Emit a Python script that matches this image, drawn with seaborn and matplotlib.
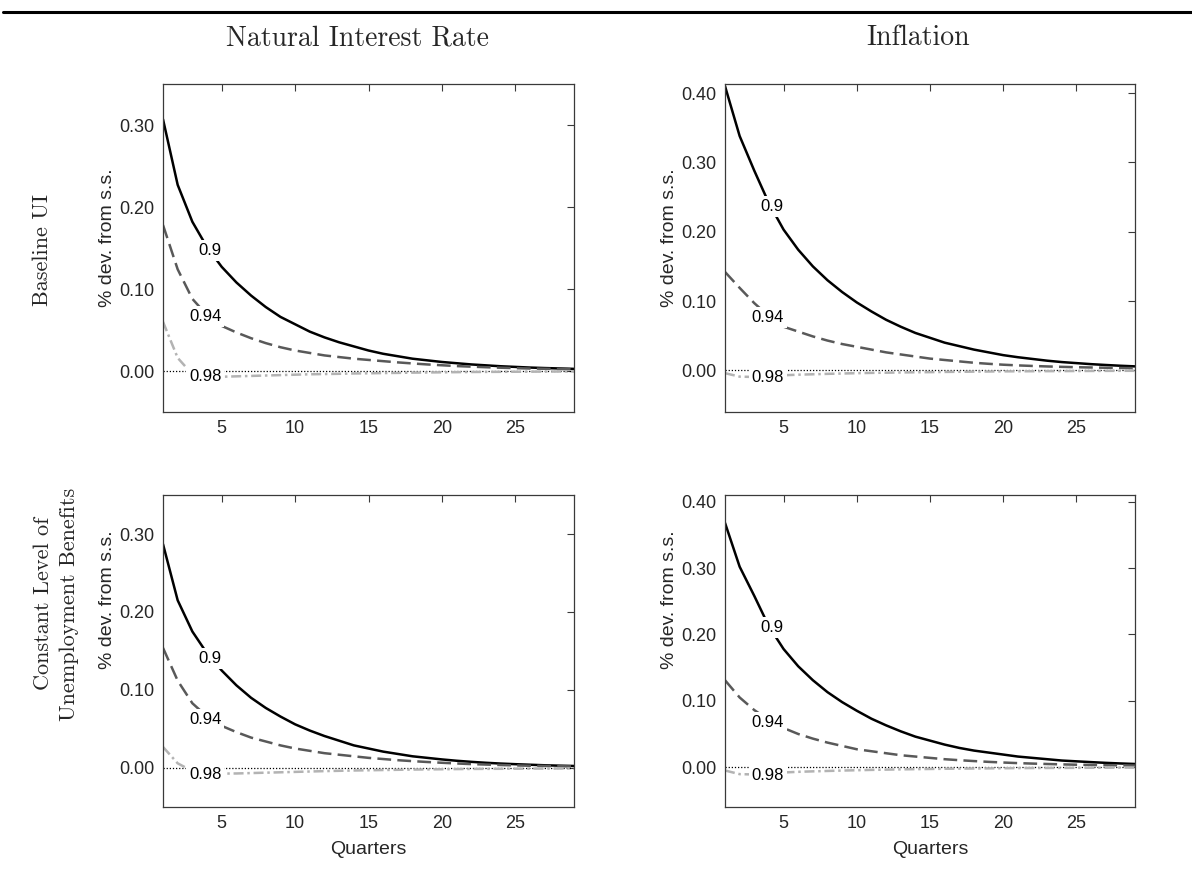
#!/usr/bin/env python3
# plot.py - impulse responses of the natural rate and inflation, two UI regimes

import pandas as pd
import matplotlib.pyplot as plt
import seaborn as sns
from matplotlib.lines import Line2D
from matplotlib.ticker import FormatStrFormatter

sns.set_style("white")
plt.rcParams["font.family"] = ["Liberation Sans", "DejaVu Sans"]

# 1. Data
quarters = list(range(1, 30))
rho_labels = ["0.9", "0.94", "0.98"]

# Natural interest rate, baseline UI
nir_base_09 = [0.307, 0.227, 0.182, 0.151, 0.127, 0.108, 0.092, 0.078, 0.066, 0.057,
               0.048, 0.041, 0.035, 0.030, 0.025, 0.021, 0.018, 0.015, 0.013, 0.011,
               0.0095, 0.008, 0.0069, 0.0058, 0.005, 0.0042, 0.0036, 0.0031, 0.0026]
nir_base_094 = [0.178, 0.124, 0.088, 0.068, 0.055, 0.047, 0.040, 0.034, 0.029, 0.025,
                0.022, 0.019, 0.017, 0.015, 0.0135, 0.012, 0.0105, 0.0092, 0.008, 0.007,
                0.006, 0.0053, 0.0046, 0.004, 0.0035, 0.003, 0.0027, 0.0024, 0.0021]
nir_base_098 = [0.060, 0.016, -0.004, -0.007, -0.007, -0.0065, -0.006, -0.0055, -0.005, -0.0045,
                -0.004, -0.0037, -0.0034, -0.003, -0.0028, -0.0025, -0.0023, -0.002, -0.0018, -0.0016,
                -0.0014, -0.0012, -0.0011, -0.001, -0.0009, -0.0008, -0.0007, -0.0006, -0.0005]

# Inflation, baseline UI
inf_base_09 = [0.410, 0.338, 0.288, 0.241, 0.203, 0.174, 0.150, 0.130, 0.113, 0.098,
               0.085, 0.073, 0.063, 0.054, 0.047, 0.040, 0.035, 0.030, 0.026, 0.022,
               0.019, 0.0165, 0.014, 0.012, 0.0105, 0.009, 0.0078, 0.0067, 0.0058]
inf_base_094 = [0.142, 0.119, 0.097, 0.078, 0.063, 0.056, 0.049, 0.043, 0.038, 0.034,
                0.030, 0.026, 0.023, 0.020, 0.017, 0.015, 0.013, 0.011, 0.0095, 0.0082,
                0.0072, 0.0064, 0.0057, 0.0051, 0.0046, 0.0042, 0.0038, 0.0035, 0.0032]
inf_base_098 = [-0.004, -0.009, -0.0095, -0.008, -0.007, -0.0062, -0.0056, -0.005, -0.0045, -0.004,
                -0.0036, -0.0033, -0.003, -0.0027, -0.0025, -0.0022, -0.002, -0.0018, -0.0016, -0.0014,
                -0.0013, -0.0012, -0.0011, -0.001, -0.0009, -0.0008, -0.0007, -0.0006, -0.0006]

# Natural interest rate, constant level of UI benefits
nir_const_09 = [0.287, 0.215, 0.175, 0.147, 0.125, 0.106, 0.090, 0.077, 0.066, 0.056,
                0.048, 0.041, 0.035, 0.029, 0.025, 0.021, 0.018, 0.015, 0.013, 0.011,
                0.0093, 0.0079, 0.0067, 0.0057, 0.0049, 0.0042, 0.0035, 0.003, 0.0026]
nir_const_094 = [0.154, 0.112, 0.083, 0.066, 0.054, 0.046, 0.039, 0.034, 0.029, 0.025,
                 0.022, 0.019, 0.017, 0.015, 0.013, 0.0115, 0.010, 0.0088, 0.0077, 0.0067,
                 0.0058, 0.005, 0.0044, 0.0038, 0.0033, 0.0029, 0.0026, 0.0023, 0.002]
nir_const_098 = [0.027, 0.006, -0.004, -0.007, -0.0072, -0.007, -0.0065, -0.006, -0.0055, -0.005,
                 -0.0045, -0.004, -0.0036, -0.0032, -0.0029, -0.0026, -0.0023, -0.002, -0.0018, -0.0016,
                 -0.0014, -0.0012, -0.0011, -0.001, -0.0009, -0.0008, -0.0007, -0.0006, -0.0005]

# Inflation, constant level of UI benefits
inf_const_09 = [0.368, 0.302, 0.258, 0.212, 0.178, 0.152, 0.131, 0.113, 0.098, 0.085,
                0.073, 0.063, 0.054, 0.046, 0.040, 0.034, 0.029, 0.025, 0.022, 0.019,
                0.016, 0.014, 0.012, 0.010, 0.0088, 0.0076, 0.0065, 0.0056, 0.0048]
inf_const_094 = [0.131, 0.105, 0.086, 0.071, 0.059, 0.050, 0.043, 0.037, 0.032, 0.027,
                 0.024, 0.021, 0.018, 0.016, 0.014, 0.012, 0.0105, 0.0092, 0.008, 0.007,
                 0.0061, 0.0054, 0.0048, 0.0042, 0.0037, 0.0033, 0.003, 0.0027, 0.0024]
inf_const_098 = [-0.005, -0.0105, -0.011, -0.0095, -0.008, -0.007, -0.0063, -0.0057, -0.0051, -0.0046,
                 -0.0041, -0.0037, -0.0033, -0.003, -0.0027, -0.0024, -0.0022, -0.002, -0.0018, -0.0016,
                 -0.0014, -0.0013, -0.0012, -0.0011, -0.001, -0.0009, -0.0008, -0.0007, -0.0006]

col_titles = ["Natural Interest Rate", "Inflation"]
row_titles = ["Baseline UI", "Constant Level of\nUnemployment Benefits"]

# 2. Panel layout: (series, axes rect in px, ylim, yticks, label positions)
panels = [
    dict(series=[nir_base_09, nir_base_094, nir_base_098],
         rect=[163, 84, 574, 412], ylim=(-0.05, 0.35), yticks=[0, 0.1, 0.2, 0.3],
         labels=[(4.18, 0.147), (3.88, 0.066), (3.88, -0.007)], ylab_y=0.53, xlabel=False),
    dict(series=[inf_base_09, inf_base_094, inf_base_098],
         rect=[725, 84, 1135, 412], ylim=(-0.06, 0.413), yticks=[0, 0.1, 0.2, 0.3, 0.4],
         labels=[(4.23, 0.237), (3.93, 0.076), (3.93, -0.0105)], ylab_y=0.53, xlabel=False),
    dict(series=[nir_const_09, nir_const_094, nir_const_098],
         rect=[163, 495, 574, 807], ylim=(-0.05, 0.35), yticks=[0, 0.1, 0.2, 0.3],
         labels=[(4.18, 0.140), (3.88, 0.062), (3.88, -0.0077)], ylab_y=0.663, xlabel=True),
    dict(series=[inf_const_09, inf_const_094, inf_const_098],
         rect=[725, 495, 1135, 807], ylim=(-0.06, 0.41), yticks=[0, 0.1, 0.2, 0.3, 0.4],
         labels=[(4.23, 0.211), (3.93, 0.067), (3.93, -0.012)], ylab_y=0.663, xlabel=True),
]

palette = {"0.9": "#000000", "0.94": "#595959", "0.98": "#b3b3b3"}
dashes = {"0.9": "", "0.94": (5.5, 2.5), "0.98": (4, 1.5, 1, 1.5)}

W, H = 1192, 876
fig = plt.figure(figsize=(W / 100, H / 100), dpi=100)

spine_col = "#3a3a3a"
for p in panels:
    x0, y0, x1, y1 = p["rect"]
    ax = fig.add_axes([x0 / W, 1 - y1 / H, (x1 - x0) / W, (y1 - y0) / H])

    df = pd.DataFrame({
        "quarter": quarters * 3,
        "value": p["series"][0] + p["series"][1] + p["series"][2],
        "rho": [r for r in rho_labels for _ in quarters],
    })
    ax.axhline(0, color="black", ls=(0, (1, 1.5)), lw=0.9, zorder=1)
    sns.lineplot(data=df, x="quarter", y="value", hue="rho", style="rho",
                 hue_order=rho_labels, style_order=rho_labels,
                 palette=palette, dashes=dashes, linewidth=1.8,
                 estimator=None, errorbar=None, legend=False, ax=ax, zorder=2)

    # inline contour-style labels that break the lines
    for lab, (tx, ty) in zip(rho_labels, p["labels"]):
        ax.text(tx, ty, lab, ha="center", va="center", fontsize=12, color="black",
                bbox=dict(facecolor="white", edgecolor="none", pad=2.2), zorder=10)

    ax.set_xlim(1, 29)
    ax.set_ylim(*p["ylim"])
    ax.set_xticks([5, 10, 15, 20, 25])
    ax.set_yticks(p["yticks"])
    ax.yaxis.set_major_formatter(FormatStrFormatter("%.2f"))
    ax.tick_params(direction="in", length=5, width=0.8, top=True, right=True,
                   labelsize=13, colors=spine_col, labelcolor="#262626", pad=6)
    for s in ax.spines.values():
        s.set_color(spine_col)
        s.set_linewidth(0.9)

    ax.set_ylabel("% dev. from s.s.", fontsize=14, color="#262626")
    ax.yaxis.set_label_coords(-0.114, p["ylab_y"])
    if p["xlabel"]:
        ax.set_xlabel("Quarters", fontsize=14, color="#262626", labelpad=6)
    else:
        ax.set_xlabel("")

# 3. Column / row headers in a LaTeX-like serif
serif = ["cmr10", "DejaVu Serif"]
fig.text(357 / W, 1 - 38 / H, col_titles[0], ha="center", va="center",
         fontsize=20, family=serif)
fig.text(918 / W, 1 - 38 / H, col_titles[1], ha="center", va="center",
         fontsize=20, family=serif)
fig.text(42.5 / W, 1 - 250 / H, row_titles[0], ha="center", va="center",
         rotation=90, fontsize=16, family=serif)
fig.text(56 / W, 1 - 604 / H, row_titles[1], ha="center", va="center",
         rotation=90, fontsize=16, family=serif, multialignment="center",
         linespacing=1.45)

# top rule
fig.add_artist(Line2D([3 / W, 1.0], [1 - 12 / H, 1 - 12 / H], color="black",
                      lw=2.2, transform=fig.transFigure))

fig.savefig("out.png", dpi=100)
plt.close(fig)
